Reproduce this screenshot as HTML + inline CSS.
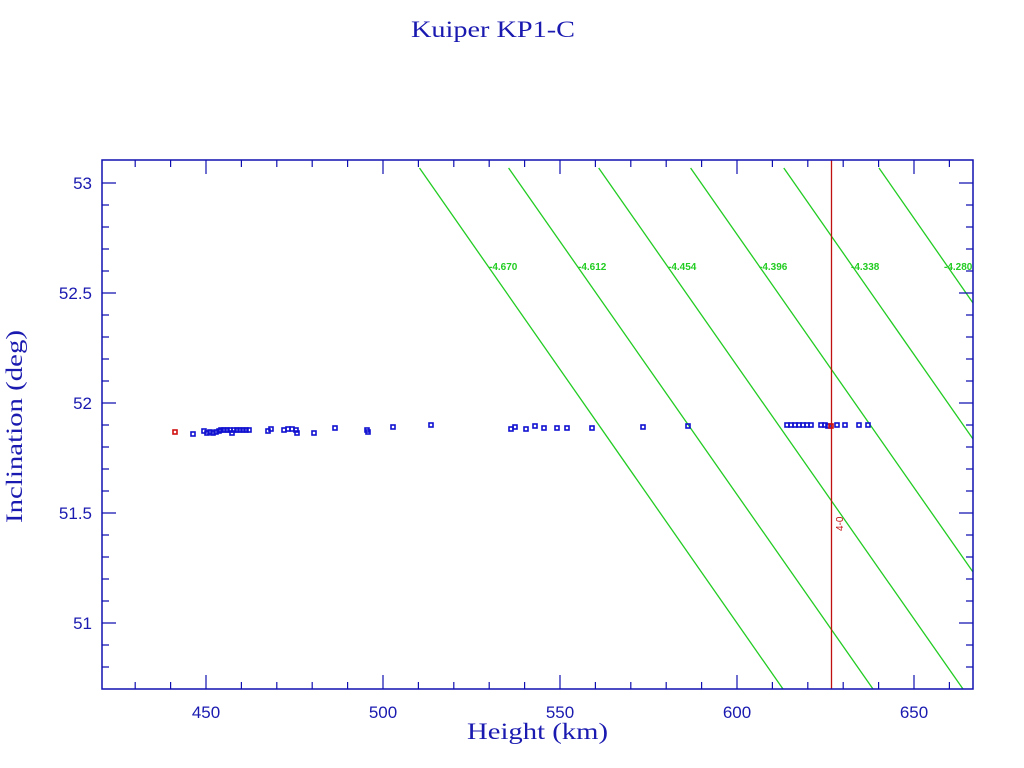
<!DOCTYPE html>
<html><head><meta charset="utf-8"><style>html,body{margin:0;padding:0;background:#fff}svg{display:block}</style></head><body>
<svg width="1024" height="768" xmlns="http://www.w3.org/2000/svg">
<rect width="1024" height="768" fill="#fff"/>
<text x="411" y="37" font-family="Liberation Serif, serif" font-size="23" fill="#1a1ab0" textLength="164" lengthAdjust="spacingAndGlyphs">Kuiper KP1-C</text>
<g stroke="#22cc22" stroke-width="1.3" fill="none">
<line x1="419.5" y1="168" x2="783" y2="689"/>
<line x1="508.6" y1="168" x2="873" y2="689"/>
<line x1="598.7" y1="168" x2="963" y2="689"/>
<line x1="690.6" y1="168" x2="973" y2="572"/>
<line x1="783.8" y1="168" x2="973" y2="439"/>
<line x1="879" y1="168" x2="973" y2="303"/>
</g>
<g font-family="Liberation Sans, sans-serif" font-size="10" font-weight="bold" fill="#22cc22">
<text x="489" y="270">-4.670</text>
<text x="578" y="270">-4.612</text>
<text x="668" y="270">-4.454</text>
<text x="759" y="270">-4.396</text>
<text x="851" y="270">-4.338</text>
<text x="944" y="270">-4.280</text>
</g>
<line x1="831.5" y1="160" x2="831.5" y2="689" stroke="#c01010" stroke-width="1.3"/>
<text transform="translate(843,531) rotate(-90)" font-family="Liberation Sans, sans-serif" font-size="10" fill="#c01010">4-0</text>
<g fill="none" stroke="#1010d0" stroke-width="1.6">
<rect x="191" y="432" width="4" height="4"/>
<rect x="202" y="429" width="4" height="4"/>
<rect x="205" y="431" width="4" height="4"/>
<rect x="208" y="430" width="4" height="4"/>
<rect x="211" y="431" width="4" height="4"/>
<rect x="214" y="430" width="4" height="4"/>
<rect x="217" y="429" width="4" height="4"/>
<rect x="219" y="428" width="4" height="4"/>
<rect x="222" y="428" width="4" height="4"/>
<rect x="225" y="428" width="4" height="4"/>
<rect x="228" y="428" width="4" height="4"/>
<rect x="230" y="431" width="4" height="4"/>
<rect x="232" y="428" width="4" height="4"/>
<rect x="235" y="428" width="4" height="4"/>
<rect x="238" y="428" width="4" height="4"/>
<rect x="241" y="428" width="4" height="4"/>
<rect x="244" y="428" width="4" height="4"/>
<rect x="247" y="428" width="4" height="4"/>
<rect x="266" y="429" width="4" height="4"/>
<rect x="269" y="427" width="4" height="4"/>
<rect x="282" y="428" width="4" height="4"/>
<rect x="286" y="427" width="4" height="4"/>
<rect x="290" y="427" width="4" height="4"/>
<rect x="294" y="428" width="4" height="4"/>
<rect x="295" y="431" width="4" height="4"/>
<rect x="312" y="431" width="4" height="4"/>
<rect x="333" y="426" width="4" height="4"/>
<rect x="365" y="428" width="4" height="4"/>
<rect x="366" y="430" width="4" height="4"/>
<rect x="391" y="425" width="4" height="4"/>
<rect x="429" y="423" width="4" height="4"/>
<rect x="509" y="427" width="4" height="4"/>
<rect x="513" y="425" width="4" height="4"/>
<rect x="524" y="427" width="4" height="4"/>
<rect x="533" y="424" width="4" height="4"/>
<rect x="542" y="426" width="4" height="4"/>
<rect x="555" y="426" width="4" height="4"/>
<rect x="565" y="426" width="4" height="4"/>
<rect x="590" y="426" width="4" height="4"/>
<rect x="641" y="425" width="4" height="4"/>
<rect x="686" y="424" width="4" height="4"/>
<rect x="785" y="423" width="4" height="4"/>
<rect x="789" y="423" width="4" height="4"/>
<rect x="793" y="423" width="4" height="4"/>
<rect x="797" y="423" width="4" height="4"/>
<rect x="801" y="423" width="4" height="4"/>
<rect x="805" y="423" width="4" height="4"/>
<rect x="809" y="423" width="4" height="4"/>
<rect x="819" y="423" width="4" height="4"/>
<rect x="823" y="423" width="4" height="4"/>
<rect x="826" y="424" width="4" height="4"/>
<rect x="835" y="423" width="4" height="4"/>
<rect x="843" y="423" width="4" height="4"/>
<rect x="857" y="423" width="4" height="4"/>
<rect x="866" y="423" width="4" height="4"/>
</g>
<g fill="none" stroke="#d01010" stroke-width="1.6">
<rect x="173" y="430" width="4" height="4"/>
<rect x="829" y="424" width="4" height="4"/>
</g>
<rect x="102" y="160" width="871" height="529" fill="none" stroke="#1010b0" stroke-width="1.5"/>
<path fill="none" stroke="#1010b0" stroke-width="1.2" d="M135.2 689v-7M170.6 689v-7M206 689v-14M241.4 689v-7M276.8 689v-7M312.2 689v-7M347.6 689v-7M383 689v-14M418.4 689v-7M453.8 689v-7M489.2 689v-7M524.6 689v-7M560 689v-14M595.4 689v-7M630.8 689v-7M666.2 689v-7M701.6 689v-7M737 689v-14M772.4 689v-7M807.8 689v-7M843.2 689v-7M878.6 689v-7M914 689v-14M949.4 689v-7M135.2 160v7M170.6 160v7M206 160v14M241.4 160v7M276.8 160v7M312.2 160v7M347.6 160v7M383 160v14M418.4 160v7M453.8 160v7M489.2 160v7M524.6 160v7M560 160v14M595.4 160v7M630.8 160v7M666.2 160v7M701.6 160v7M737 160v14M772.4 160v7M807.8 160v7M843.2 160v7M878.6 160v7M914 160v14M949.4 160v7M102 667h7M102 645h7M102 623h14M102 601h7M102 579h7M102 557h7M102 535h7M102 513h14M102 491h7M102 469h7M102 447h7M102 425h7M102 403h14M102 381h7M102 359h7M102 337h7M102 315h7M102 293h14M102 271h7M102 249h7M102 227h7M102 205h7M102 183h14M973 667h-7M973 645h-7M973 623h-14M973 601h-7M973 579h-7M973 557h-7M973 535h-7M973 513h-14M973 491h-7M973 469h-7M973 447h-7M973 425h-7M973 403h-14M973 381h-7M973 359h-7M973 337h-7M973 315h-7M973 293h-14M973 271h-7M973 249h-7M973 227h-7M973 205h-7M973 183h-14"/>
<g font-family="Liberation Sans, sans-serif" font-size="17" fill="#1a1ab0" text-anchor="middle">
<text x="206" y="718">450</text><text x="383" y="718">500</text><text x="560" y="718">550</text><text x="737" y="718">600</text><text x="914" y="718">650</text>
</g>
<g font-family="Liberation Sans, sans-serif" font-size="17" fill="#1a1ab0" text-anchor="end">
<text x="92" y="189">53</text><text x="92" y="299">52.5</text><text x="92" y="409">52</text><text x="92" y="519">51.5</text><text x="92" y="629">51</text>
</g>
<text x="467" y="739" font-family="Liberation Serif, serif" font-size="23" fill="#1a1ab0" textLength="141" lengthAdjust="spacingAndGlyphs">Height (km)</text>
<text transform="translate(22,523) rotate(-90)" font-family="Liberation Serif, serif" font-size="23" fill="#1a1ab0" textLength="193" lengthAdjust="spacingAndGlyphs">Inclination (deg)</text>
</svg>
</body></html>
